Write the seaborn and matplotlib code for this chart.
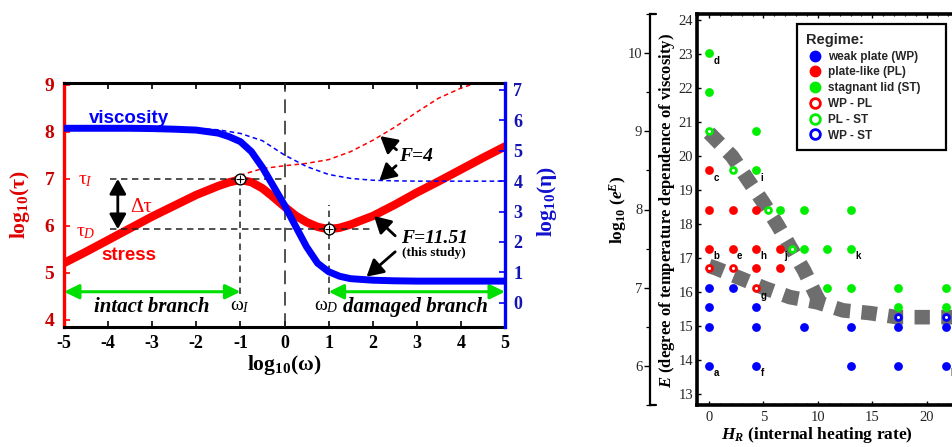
import numpy as np
import pandas as pd
import matplotlib
matplotlib.use("Agg")
import matplotlib.pyplot as plt
import seaborn as sns
from matplotlib.lines import Line2D
from matplotlib.patches import Rectangle
from matplotlib.ticker import MultipleLocator
from matplotlib.font_manager import FontProperties

# ---------------- Left panel data ----------------
omega = [-5, -4.5, -4, -3.5, -3, -2.5, -2, -1.5, -1.25, -1, -0.75, -0.5, -0.25, 0,
         0.25, 0.5, 0.75, 1, 1.25, 1.5, 2, 2.5, 3, 3.5, 4, 4.5, 5]
stress = [5.21, 5.45, 5.70, 5.95, 6.20, 6.43, 6.66, 6.85, 6.93, 6.98, 6.93, 6.80, 6.61, 6.41,
          6.22, 6.08, 5.98, 5.93, 5.96, 6.03, 6.21, 6.45, 6.71, 6.95, 7.20, 7.45, 7.69]
viscosity = [5.74, 5.74, 5.74, 5.74, 5.73, 5.71, 5.68, 5.58, 5.46, 5.30, 4.97, 4.45, 3.83, 3.21,
             2.52, 1.84, 1.30, 1.02, 0.87, 0.79, 0.74, 0.72, 0.71, 0.71, 0.71, 0.71, 0.71]
omega_f4 = [-2, -1.5, -1, -0.5, 0, 0.5, 1, 1.5, 2, 2.5, 3, 3.5, 4, 4.4]
stress_f4 = [6.68, 6.90, 7.08, 7.22, 7.28, 7.33, 7.41, 7.58, 7.82, 8.10, 8.42, 8.72, 8.93, 9.06]
omega_f4v = [-2.5, -2, -1.5, -1, -0.5, 0, 0.5, 1, 1.5, 2, 2.5, 3, 4, 5]
visc_f4 = [5.74, 5.73, 5.69, 5.57, 5.33, 4.86, 4.48, 4.22, 4.09, 4.03, 4.01, 4.0, 4.0, 4.0]

tau_I, tau_D = 7.0, 5.93
omega_I, omega_D = -1.0, 1.0
branch_level = 4.6
tau_ticks = [4, 5, 6, 7, 8, 9]
eta_ticks = [0, 1, 2, 3, 4, 5, 6, 7]
omega_ticks = [-5, -4, -3, -2, -1, 0, 1, 2, 3, 4, 5]

# ---------------- Right panel data ----------------
wp_hr = [0, 0, 0, 0, 2.17, 4.35, 4.35, 4.35, 8.7, 13.04, 13.04, 17.39, 17.39, 21.74, 21.74]
wp_E = [16.11, 15.54, 14.97, 13.82, 16.11, 15.54, 14.97, 13.82, 14.97, 14.97, 13.82, 14.97, 13.82, 14.97, 13.82]
pl_hr = [0, 0, 0, 2.17, 2.17, 4.35, 4.35, 4.35, 6.52, 6.52]
pl_E = [19.57, 18.42, 17.27, 18.42, 17.27, 18.42, 17.27, 16.69, 17.27, 16.69]
st_hr = [0, 0, 4.35, 4.35, 6.52, 8.7, 8.7, 10.87, 10.87, 13.04, 13.04, 13.04, 17.39, 17.39, 21.74, 21.74]
st_E = [23.03, 21.88, 20.72, 19.57, 18.42, 18.42, 17.27, 17.27, 16.11, 18.42, 17.27, 16.11, 16.11, 15.54, 16.11, 15.54]
wppl_hr = [0, 2.17, 4.35]
wppl_E = [16.69, 16.69, 16.11]
plst_hr = [0, 2.17, 5.43, 7.61]
plst_E = [20.72, 19.57, 18.42, 17.27]
wpst_hr = [17.39, 21.74]
wpst_E = [15.25, 15.25]

case_labels = ['a', 'b', 'c', 'd', 'e', 'f', 'g', 'h', 'i', 'j', 'k', 'l']
case_hr = [0, 0, 0, 0, 2.17, 4.35, 4.35, 4.35, 4.35, 6.52, 13.04, 21.74]
case_E = [13.82, 17.27, 19.57, 23.03, 17.27, 13.82, 16.11, 17.27, 19.57, 17.27, 17.27, 13.82]

upper_hr = [0.0, 0.37, 2.11, 3.58, 4.96, 6.25, 7.54, 8.73, 9.83, 10.3]
upper_E = [20.68, 20.56, 19.99, 19.29, 18.64, 17.99, 17.28, 16.63, 15.90, 15.62]
lower_hr = [0.0, 0.64, 2.85, 5.15, 7.44, 9.93, 12.32, 14.8, 17.28, 19.85, 22.15, 24.0]
lower_E = [16.76, 16.69, 16.40, 16.10, 15.84, 15.69, 15.45, 15.37, 15.25, 15.25, 15.25, 15.25]

E_ticks = list(range(13, 25))
hr_ticks = [0, 5, 10, 15, 20]
logE_ticks = [6, 7, 8, 9, 10]

regime_labels = ['weak plate (WP)', 'plate-like (PL)', 'stagnant lid (ST)',
                 'WP - PL', 'PL - ST', 'WP - ST']

# ---------------- Style ----------------
sns.set_theme(style='white')
plt.rcParams.update({
    'font.family': ['Liberation Serif', 'DejaVu Serif'],
    'mathtext.fontset': 'custom',
    'mathtext.rm': 'Liberation Serif',
    'mathtext.it': 'Liberation Serif:italic',
    'mathtext.bf': 'Liberation Serif:bold',
    'mathtext.bfit': 'Liberation Serif:bold:italic',
    'axes.unicode_minus': False,
    'axes.edgecolor': 'black',
})

RED = '#ff0000'
BLUE = '#0000ff'
GREEN = '#00e000'
PTGREEN = '#00ee00'
DRED = '#c80000'
DBLUE = '#1414b0'
GRAY = '#6e6e6e'

W, H = 952, 447
fig = plt.figure(figsize=(W / 100, H / 100), dpi=100)


def rect(x0, y0, x1, y1):
    return [x0 / W, 1 - y1 / H, (x1 - x0) / W, (y1 - y0) / H]


# ================= Left panel =================
ax = fig.add_axes(rect(64, 83, 505, 327))
ax2 = ax.twinx()
ax.set_xlim(-5, 5)
ax.set_ylim(3.85, 9.04)
ax2.set_ylim(-0.80, 7.23)

sns.lineplot(x=omega_f4, y=stress_f4, ax=ax, color=RED, linewidth=1.1, estimator=None)
ax.lines[-1].set_dashes([3.0, 2.2])
sns.lineplot(x=omega, y=stress, ax=ax, color=RED, linewidth=6, estimator=None)

sns.lineplot(x=omega_f4v, y=visc_f4, ax=ax2, color=BLUE, linewidth=1.1, estimator=None)
ax2.lines[-1].set_dashes([3.0, 2.2])
sns.lineplot(x=omega, y=viscosity, ax=ax2, color=BLUE, linewidth=5, estimator=None)

dk = dict(color='#222222', lw=1.1, zorder=4)
l1 = ax.hlines(tau_I, -3.96, 0, **dk)
l2 = ax.hlines(tau_D, -3.96, 2.0, **dk)
l3 = ax.vlines(omega_I, branch_level - 0.05, tau_I, **dk)
l4 = ax.vlines(omega_D, branch_level - 0.05, 6.45, **dk)
for l in (l1, l2, l3, l4):
    l.set_linestyle((0, (4.2, 3.0)))
l5 = ax.axvline(0, color='#222222', lw=1.1, zorder=4)
l5.set_dashes([9, 5])

sns.scatterplot(x=[omega_I, omega_D], y=[tau_I, tau_D], ax=ax, s=60, marker='o',
                facecolor='white', edgecolor='black', linewidth=1.0, zorder=5)
sns.scatterplot(x=[omega_I, omega_D], y=[tau_I, tau_D], ax=ax, s=40, marker='+',
                color='black', linewidth=0.8, zorder=6)

# green branch arrows
garr = dict(arrowstyle='<|-|>,head_length=0.45,head_width=0.22', color=GREEN, lw=2.2,
            mutation_scale=20, shrinkA=0, shrinkB=0)
ax.annotate('', xy=(omega_I, branch_level), xytext=(-5, branch_level), arrowprops=garr)
ax.annotate('', xy=(5, branch_level), xytext=(omega_D, branch_level), arrowprops=garr)

# delta tau arrow
ax.annotate('', xy=(-3.78, tau_I), xytext=(-3.78, tau_D),
            arrowprops=dict(arrowstyle='<|-|>,head_length=0.45,head_width=0.25', color='black',
                            lw=2.0, mutation_scale=20, shrinkA=0, shrinkB=0))

# F arrows
farr = dict(arrowstyle='-|>,head_length=0.5,head_width=0.28', color='black', lw=2.0,
            mutation_scale=20, shrinkA=0, shrinkB=0)
ax.annotate('', xy=(2.17, 7.91), xytext=(2.54, 7.62), arrowprops=farr)
ax.annotate('', xy=(2.15, 6.96), xytext=(2.53, 7.28), arrowprops=farr)
ax.annotate('', xy=(2.03, 6.21), xytext=(2.51, 5.79), arrowprops=farr)
ax.annotate('', xy=(1.86, 4.92), xytext=(2.51, 5.45), arrowprops=farr)

# texts
ax.text(-3.53, 8.28, 'viscosity', color=BLUE, fontsize=13.5, fontweight='bold',
        family='Liberation Sans', ha='center', va='center')
ax.text(-3.53, 5.38, 'stress', color=RED, fontsize=13.5, fontweight='bold',
        family='Liberation Sans', ha='center', va='center')
ax.text(-4.52, 6.96, r'τ$_{I}$', color=RED, fontsize=14, ha='center', va='center')
ax.text(-4.5, 5.86, r'τ$_{D}$', color=RED, fontsize=14, ha='center', va='center')
ax.text(-3.25, 6.40, 'Δτ', color=RED, fontsize=15, ha='center', va='center')
ax.text(-3.0, 4.28, 'intact branch', fontsize=15, fontweight='bold', fontstyle='italic',
        ha='center', va='center', color='black')
ax.text(-1.0, 4.28, r'ω$_{I}$', fontsize=14, ha='center', va='center', color='black')
ax.text(0.94, 4.28, r'ω$_{D}$', fontsize=14, ha='center', va='center', color='black')
ax.text(2.98, 4.28, 'damaged branch', fontsize=15, fontweight='bold', fontstyle='italic',
        ha='center', va='center', color='black')
ax.text(2.99, 7.47, 'F=4', fontsize=14, fontweight='bold', fontstyle='italic',
        ha='center', va='center', color='black')
ax.text(3.39, 5.74, 'F=11.51', fontsize=14, fontweight='bold', fontstyle='italic',
        ha='center', va='center', color='black')
ax.text(3.39, 5.43, '(this study)', fontsize=9.5, fontweight='bold',
        ha='center', va='center', color='black')

# axes styling
ax.set_xticks(omega_ticks)
ax.set_yticks(tau_ticks)
ax2.set_yticks(eta_ticks)
ax.set_xlabel('')
ax.set_ylabel('')
ax2.set_ylabel('')
for s in ('top', 'bottom'):
    ax.spines[s].set_linewidth(2.2)
    ax.spines[s].set_color('black')
    ax2.spines[s].set_visible(False)
ax.spines['left'].set_color(RED)
ax.spines['left'].set_linewidth(2.4)
ax.spines['right'].set_visible(False)
ax2.spines['left'].set_visible(False)
ax2.spines['right'].set_color(BLUE)
ax2.spines['right'].set_linewidth(2.4)
ax.tick_params(axis='x', which='major', direction='in', top=True, bottom=True, length=4,
               width=1.2, color='black', labelsize=13, pad=6, labelcolor='black')
ax.tick_params(axis='y', which='major', direction='in', left=True, right=False, length=4,
               width=1.2, color=RED, labelsize=14, pad=7, labelcolor=DRED)
ax2.tick_params(axis='y', which='major', direction='in', right=True, left=False, length=4,
                width=1.2, color=BLUE, labelsize=13, pad=6, labelcolor=DBLUE)
for lab in ax.get_xticklabels() + ax.get_yticklabels() + ax2.get_yticklabels():
    lab.set_fontweight('bold')
ax.grid(False)
ax2.grid(False)

fig.text(20 / W, 1 - 205 / H, r'log$_{\mathbf{10}}$(τ)', rotation=90, color='#e00000',
         fontsize=15.5, fontweight='bold', ha='center', va='center')
fig.text(547 / W, 1 - 202 / H, r'log$_{\mathbf{10}}$(η)', rotation=90, color='#1010d0',
         fontsize=15.5, fontweight='bold', ha='center', va='center')
fig.text(284 / W, 1 - 365 / H, r'log$_{\mathbf{10}}$(ω)', color='black',
         fontsize=15.5, fontweight='bold', ha='center', va='center')

# ================= Right panel =================
LOG_E = np.log10(np.e)
ax3 = fig.add_axes(rect(697.3, 14, 970.2, 405))
ax3.set_xlim(-1.08, 24.0)
ax3.set_ylim(5.5 / LOG_E, 10.5 / LOG_E)

sns.lineplot(x=upper_hr, y=upper_E, ax=ax3, color=GRAY, linewidth=10.5, estimator=None)
ax3.lines[-1].set_dashes([1.05, 0.78])
ax3.lines[-1].set_dash_capstyle('butt')
sns.lineplot(x=lower_hr, y=lower_E, ax=ax3, color=GRAY, linewidth=10.5, estimator=None)
ax3.lines[-1].set_dashes([1.05, 0.78])
ax3.lines[-1].set_dash_capstyle('butt')

S_FILL = 40
sns.scatterplot(x=wp_hr, y=wp_E, ax=ax3, color=BLUE, s=S_FILL, linewidth=0, zorder=3)
sns.scatterplot(x=pl_hr, y=pl_E, ax=ax3, color=RED, s=S_FILL, linewidth=0, zorder=3)
sns.scatterplot(x=st_hr, y=st_E, ax=ax3, color=PTGREEN, s=S_FILL, linewidth=0, zorder=3)
for hx, ey, c in ((wppl_hr, wppl_E, RED), (plst_hr, plst_E, PTGREEN), (wpst_hr, wpst_E, BLUE)):
    sns.scatterplot(x=hx, y=ey, ax=ax3, s=18, facecolor='white', edgecolor=c,
                    linewidth=2.0, zorder=4)

for lab, hx, ey in zip(case_labels, case_hr, case_E):
    ax3.annotate(lab, xy=(hx, ey), xytext=(3.2, -5.5), textcoords='offset points',
                 fontsize=7, fontweight='bold', family='Liberation Sans', ha='left',
                 va='center', color='black')

ax3.set_xticks(hr_ticks)
ax3.set_yticks(E_ticks)
ax3.xaxis.set_minor_locator(MultipleLocator(1))
ax3.set_xlabel('')
ax3.set_ylabel('')
for s in ('left', 'top', 'bottom'):
    ax3.spines[s].set_linewidth(2.6)
    ax3.spines[s].set_color('black')
ax3.spines['right'].set_visible(False)
ax3.tick_params(axis='both', which='major', direction='in', length=3, width=1.0,
                top=True, bottom=True, left=True, right=False, labelsize=10.5, color='black')
ax3.tick_params(axis='x', which='minor', direction='in', length=1.5, width=0.8,
                top=True, bottom=True, color='black')
ax3.tick_params(axis='y', which='major', pad=3)
ax3.tick_params(axis='x', which='major', pad=4)
ax3.grid(False)

sec = ax3.secondary_yaxis((650 - 697.3) / 272.9,
                          functions=(lambda e: e * LOG_E, lambda v: v / LOG_E))
sec.set_yticks(logE_ticks)
sec.yaxis.set_minor_locator(MultipleLocator(0.5))
sec.spines['left'].set_linewidth(1.6)
sec.spines['left'].set_color('black')
sec.tick_params(axis='y', which='major', direction='out', length=4, width=1.0,
                labelsize=10.5, pad=1.5, color='black')
sec.tick_params(axis='y', which='minor', direction='out', length=3, width=0.9, color='black')
for yy in (14, 405):
    fig.add_artist(Line2D([650 / W, 656 / W], [1 - yy / H, 1 - yy / H], color='black', lw=1.6))

# legend (content) + frame box
handles = [Line2D([], [], ls='none', marker='o', ms=8.5, mfc=c, mec=c, mew=0)
           for c in (BLUE, RED, PTGREEN)]
handles += [Line2D([], [], ls='none', marker='o', ms=7.0, mfc='white', mec=c, mew=2.0)
            for c in (RED, PTGREEN, BLUE)]
leg = ax3.legend(handles, regime_labels, title='Regime:', loc='upper left',
                 bbox_to_anchor=(797 / W, 1 - 24 / H), bbox_transform=fig.transFigure,
                 frameon=False,
                 prop=FontProperties(family='Liberation Sans', weight='bold', size=8.5),
                 title_fontproperties=FontProperties(family='Liberation Sans', weight='bold', size=10.5),
                 handlelength=1.6, handletextpad=0.3, labelspacing=0.32, borderpad=0.75,
                 borderaxespad=0)
leg._legend_box.align = 'left'
leg.set_zorder(10)
box = Rectangle((797 / W, 1 - 150 / H), 149 / W, 126 / H, transform=fig.transFigure,
                facecolor='white', edgecolor='black', lw=1.6, zorder=9, clip_on=False)
ax3.add_patch(box)

fig.text(618 / W, 1 - 210 / H, r'log$_{\mathbf{10}}$ ($\mathbfit{e}^{\mathbfit{E}}$)', rotation=90,
         fontsize=12.5, fontweight='bold', ha='center', va='center', color='black')
fig.text(667 / W, 1 - 210 / H, r'$\mathbfit{E}$ (degree of temperature dependence of viscosity)',
         rotation=90, fontsize=12, fontweight='bold', ha='center', va='center', color='black')
fig.text(817 / W, 1 - 435 / H, r'$\mathbfit{H}_{\mathbfit{R}}$ (internal heating rate)',
         fontsize=12.5, fontweight='bold', ha='center', va='center', color='black')

fig.savefig('out.png', dpi=100)
